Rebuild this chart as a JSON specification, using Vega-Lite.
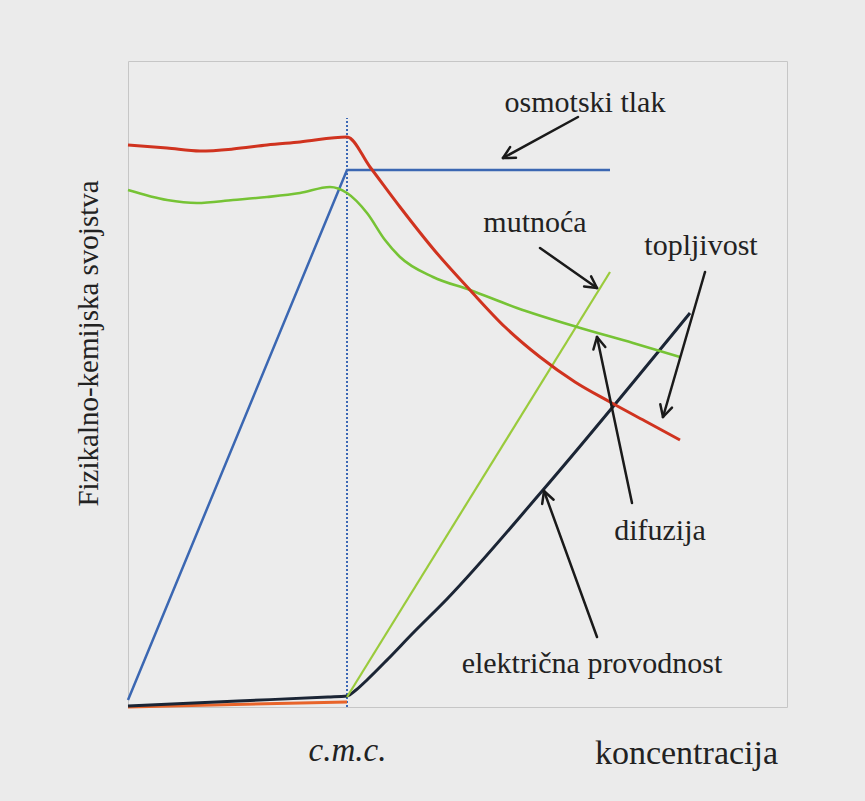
{
  "$schema": "https://vega.github.io/schema/vega-lite/v6.json",
  "width": 659,
  "height": 646,
  "autosize": {"type": "none"},
  "padding": {"left": 128, "top": 61, "right": 78, "bottom": 94},
  "background": "#ebebeb",
  "config": {
    "view": {"stroke": "#c6c6c6", "strokeWidth": 1, "fill": "#ececec"},
    "font": "Liberation Serif"
  },
  "datasets": {
    "curves": [
      {"series": "povrsinska napetost", "x": 0, "y": 562},
      {"series": "povrsinska napetost", "x": 39, "y": 559},
      {"series": "povrsinska napetost", "x": 72, "y": 556},
      {"series": "povrsinska napetost", "x": 105, "y": 558},
      {"series": "povrsinska napetost", "x": 139, "y": 562},
      {"series": "povrsinska napetost", "x": 172, "y": 565},
      {"series": "povrsinska napetost", "x": 219, "y": 570},
      {"series": "povrsinska napetost", "x": 242, "y": 540},
      {"series": "povrsinska napetost", "x": 272, "y": 500},
      {"series": "povrsinska napetost", "x": 307, "y": 456},
      {"series": "povrsinska napetost", "x": 342, "y": 417},
      {"series": "povrsinska napetost", "x": 377, "y": 380},
      {"series": "povrsinska napetost", "x": 412, "y": 350},
      {"series": "povrsinska napetost", "x": 447, "y": 325},
      {"series": "povrsinska napetost", "x": 482, "y": 305},
      {"series": "povrsinska napetost", "x": 517, "y": 286},
      {"series": "povrsinska napetost", "x": 552, "y": 267},
      {"series": "difuzija", "x": 0, "y": 517},
      {"series": "difuzija", "x": 39, "y": 507},
      {"series": "difuzija", "x": 69, "y": 504},
      {"series": "difuzija", "x": 105, "y": 507},
      {"series": "difuzija", "x": 139, "y": 510},
      {"series": "difuzija", "x": 172, "y": 514},
      {"series": "difuzija", "x": 202, "y": 520},
      {"series": "difuzija", "x": 219, "y": 514},
      {"series": "difuzija", "x": 239, "y": 494},
      {"series": "difuzija", "x": 257, "y": 467},
      {"series": "difuzija", "x": 272, "y": 450},
      {"series": "difuzija", "x": 305, "y": 430},
      {"series": "difuzija", "x": 342, "y": 417},
      {"series": "difuzija", "x": 389, "y": 399},
      {"series": "difuzija", "x": 449, "y": 380},
      {"series": "difuzija", "x": 505, "y": 364},
      {"series": "difuzija", "x": 552, "y": 350},
      {"series": "osmotski tlak", "x": 0, "y": 7},
      {"series": "osmotski tlak", "x": 219, "y": 537},
      {"series": "osmotski tlak", "x": 482, "y": 537},
      {"series": "mutnoca", "x": 219, "y": 10},
      {"series": "mutnoca", "x": 482, "y": 435},
      {"series": "topljivost", "x": 0, "y": 0},
      {"series": "topljivost", "x": 219, "y": 5},
      {"series": "elektricna provodnost", "x": 0, "y": 1},
      {"series": "elektricna provodnost", "x": 110, "y": 6},
      {"series": "elektricna provodnost", "x": 200, "y": 10},
      {"series": "elektricna provodnost", "x": 219, "y": 11},
      {"series": "elektricna provodnost", "x": 228, "y": 17},
      {"series": "elektricna provodnost", "x": 240, "y": 28},
      {"series": "elektricna provodnost", "x": 260, "y": 48},
      {"series": "elektricna provodnost", "x": 285, "y": 74},
      {"series": "elektricna provodnost", "x": 319, "y": 108},
      {"series": "elektricna provodnost", "x": 415, "y": 217},
      {"series": "elektricna provodnost", "x": 562, "y": 394}
    ],
    "arrows": [
      {"x": 450, "y": 590, "x2": 375, "y2": 549},
      {"x": 382.1, "y": 559.9, "x2": 375, "y2": 549},
      {"x": 388, "y": 549.2, "x2": 375, "y2": 549},
      {"x": 412, "y": 459, "x2": 469, "y2": 419},
      {"x": 456.1, "y": 420.6, "x2": 469, "y2": 419},
      {"x": 463.1, "y": 430.6, "x2": 469, "y2": 419},
      {"x": 577, "y": 435, "x2": 535, "y2": 290},
      {"x": 532.3, "y": 302.7, "x2": 535, "y2": 290},
      {"x": 544, "y": 299.3, "x2": 535, "y2": 290},
      {"x": 504, "y": 204, "x2": 469, "y2": 370},
      {"x": 477.3, "y": 360, "x2": 469, "y2": 370},
      {"x": 465.4, "y": 357.5, "x2": 469, "y2": 370},
      {"x": 469, "y": 70, "x2": 416, "y2": 216},
      {"x": 425.6, "y": 207.3, "x2": 416, "y2": 216},
      {"x": 414.2, "y": 203.1, "x2": 416, "y2": 216}
    ],
    "labels": [
      {"text": "osmotski tlak", "x": 457, "y": 595},
      {"text": "mutnoća", "x": 407, "y": 475},
      {"text": "topljivost", "x": 573, "y": 452},
      {"text": "difuzija", "x": 532, "y": 167},
      {"text": "električna provodnost", "x": 464, "y": 34}
    ],
    "cmc": [{"x": 219, "y": 0, "y2": 589}]
  },
  "encoding": {
    "x": {
      "field": "x", "type": "quantitative",
      "scale": {"domain": [0, 659], "nice": false, "zero": false},
      "axis": {
        "title": "koncentracija",
        "values": [219],
        "labelExpr": "'c.m.c.'",
        "domain": false, "ticks": false, "tickSize": 0, "grid": false,
        "labelFont": "Liberation Serif", "labelFontSize": 33, "labelFontStyle": "italic",
        "labelColor": "#222222", "labelBaseline": "alphabetic", "labelPadding": 53, "labelDx": -4,
        "titleFont": "Liberation Serif", "titleFontSize": 34, "titleFontWeight": "normal",
        "titleColor": "#222222", "titleX": 558, "titleY": 56, "titleBaseline": "alphabetic", "titleAlign": "center"
      }
    },
    "y": {
      "field": "y", "type": "quantitative",
      "scale": {"domain": [0, 646], "nice": false, "zero": false},
      "axis": {
        "title": "Fizikalno-kemijska svojstva",
        "labels": false, "domain": false, "ticks": false, "grid": false,
        "titleFont": "Liberation Serif", "titleFontSize": 29, "titleFontWeight": "normal",
        "titleColor": "#222222", "titleX": -31, "titleY": 282, "titleAngle": -90,
        "titleBaseline": "alphabetic", "titleAlign": "center"
      }
    }
  },
  "layer": [
    {
      "data": {"name": "cmc"},
      "mark": {"type": "rule", "color": "#3d68b5", "strokeWidth": 2, "strokeDash": [2, 2]},
      "encoding": {"y2": {"field": "y2"}}
    },
    {
      "data": {"name": "curves"},
      "transform": [{"filter": "datum.series === 'topljivost'"}],
      "mark": {"type": "line", "color": "#e8642a", "strokeWidth": 3}
    },
    {
      "data": {"name": "curves"},
      "transform": [{"filter": "datum.series === 'elektricna provodnost'"}],
      "mark": {"type": "line", "color": "#1b2535", "strokeWidth": 3, "interpolate": "monotone"}
    },
    {
      "data": {"name": "curves"},
      "transform": [{"filter": "datum.series === 'mutnoca'"}],
      "mark": {"type": "line", "color": "#9acb3c", "strokeWidth": 2.2}
    },
    {
      "data": {"name": "curves"},
      "transform": [{"filter": "datum.series === 'osmotski tlak'"}],
      "mark": {"type": "line", "color": "#3b67b2", "strokeWidth": 2.5}
    },
    {
      "data": {"name": "curves"},
      "transform": [{"filter": "datum.series === 'difuzija'"}],
      "mark": {"type": "line", "color": "#76c335", "strokeWidth": 2.6, "interpolate": "monotone"}
    },
    {
      "data": {"name": "curves"},
      "transform": [{"filter": "datum.series === 'povrsinska napetost'"}],
      "mark": {"type": "line", "color": "#d0331f", "strokeWidth": 3, "interpolate": "monotone"}
    },
    {
      "data": {"name": "arrows"},
      "mark": {"type": "rule", "color": "#1a1a1a", "strokeWidth": 2.5, "strokeCap": "round"},
      "encoding": {"x2": {"field": "x2"}, "y2": {"field": "y2"}}
    },
    {
      "data": {"name": "labels"},
      "mark": {"type": "text", "font": "Liberation Serif", "fontSize": 30, "color": "#222222", "baseline": "alphabetic", "align": "center"},
      "encoding": {"text": {"field": "text"}}
    }
  ]
}
